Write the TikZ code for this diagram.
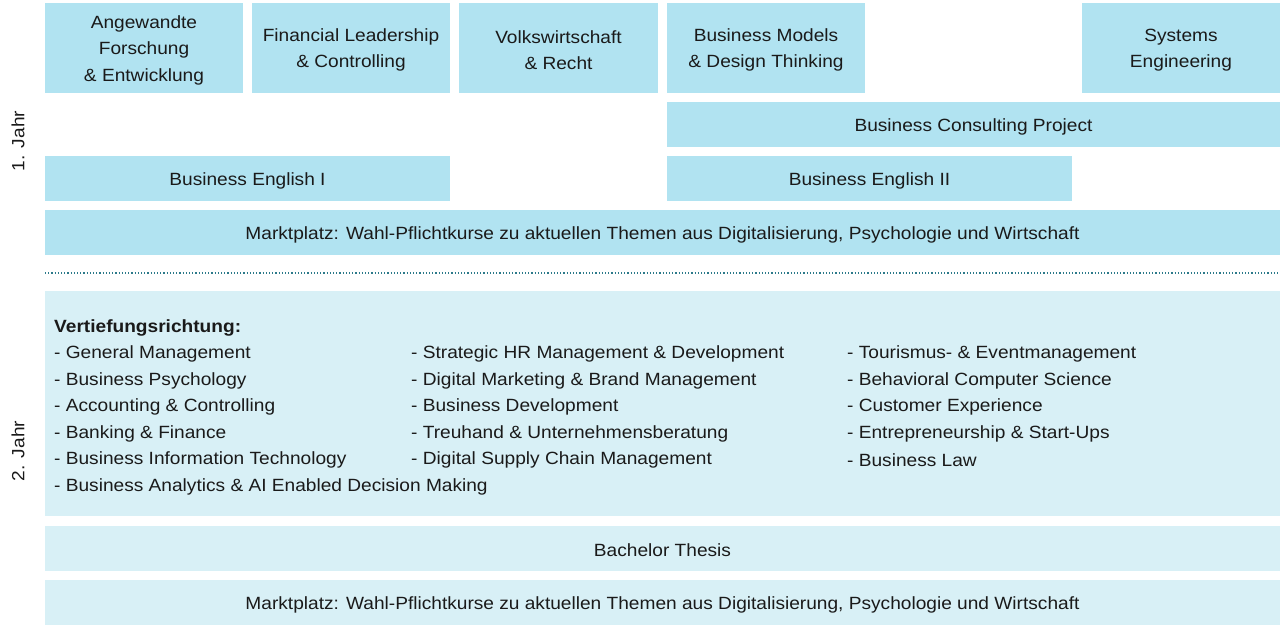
\documentclass[tikz,border=0pt]{standalone}
\usepackage{fontspec}
\setmainfont[FakeStretch=1.08]{Liberation Sans}
\definecolor{yearone}{HTML}{B1E3F1}
\definecolor{yeartwo}{HTML}{D8F0F6}
\definecolor{dotcol}{HTML}{2C7A8A}
\definecolor{txt}{HTML}{1A1A1A}
\begin{document}
\begin{tikzpicture}[x=1pt,y=-1pt,
  font=\fontsize{17.7}{26.5}\selectfont, text=txt,
  boxa/.style={fill=yearone,draw=none},
  boxb/.style={fill=yeartwo,draw=none},
  lbl/.style={align=center,inner sep=0pt},
  item/.style={anchor=west,inner sep=0pt}]
\useasboundingbox (0,0) rectangle (1280,628);
% year 1
\fill[boxa] (45,3) rectangle (243,93);
\node[lbl] (a1) at (144,50) {Angewandte\\Forschung\\\& Entwicklung};
\fill[boxa] (252,3) rectangle (450,93);
\node[lbl] (a2) at (351,50) {Financial Leadership\\\& Controlling};
\fill[boxa] (459,3) rectangle (658,93);
\node[lbl] (a3) at (558.5,50) {Volkswirtschaft\\\& Recht};
\fill[boxa] (667,3) rectangle (865,93);
\node[lbl] (a4) at (766,50) {Business Models\\\& Design Thinking};
\fill[boxa] (1082,3) rectangle (1280,93);
\node[lbl] (a5) at (1181,50) {Systems\\Engineering};
\fill[boxa] (667,102) rectangle (1280,147);
\node[lbl] (bcp) at (973.5,126.5) {Business Consulting Project};
\fill[boxa] (45,156) rectangle (450,201);
\node[lbl] (be1) at (247.5,180.5) {Business English I};
\fill[boxa] (667,156) rectangle (1072,201);
\node[lbl] (be2) at (869.5,180.5) {Business English II};
\fill[boxa] (45,210) rectangle (1280,255);
\node[lbl] (m1) at (662.5,234.5) {Marktplatz: Wahl-Pflichtkurse zu aktuellen Themen aus Digitalisierung, Psychologie und Wirtschaft};
% divider
\coordinate (d1) at (45,273);
\coordinate (d2) at (1280,273);
\draw[dotcol,line width=1.2pt,dash pattern=on 1.2pt off 2pt] (d1) -- (d2);
% year labels
\node[lbl,rotate=90] (j1) at (18,141) {1. Jahr};
\node[lbl,rotate=90] (j2) at (18,451) {2. Jahr};
% year 2
\fill[boxb] (45,291) rectangle (1280,516);
\node[item] (vt) at (54,328) {\bfseries Vertiefungsrichtung:};
\foreach \t [count=\i from 0] in {General Management,Business Psychology,Accounting \& Controlling,Banking \& Finance,Business Information Technology,Business Analytics \& AI Enabled Decision Making}
  \node[item] (c1-\i) at (54,354.3+26.5*\i) {- \t};
\foreach \t [count=\i from 0] in {Strategic HR Management \& Development,Digital Marketing \& Brand Management,Business Development,Treuhand \& Unternehmensberatung,Digital Supply Chain Management}
  \node[item] (c2-\i) at (411,354.3+26.5*\i) {- \t};
\foreach \t [count=\i from 0] in {Tourismus- \& Eventmanagement,Behavioral Computer Science,Customer Experience,Entrepreneurship \& Start-Ups,Business Law}
  \node[item] (c3-\i) at (847,354.3+26.5*\i) {- \t};
\fill[boxb] (45,526) rectangle (1280,571);
\node[lbl] (bt) at (662.5,550.5) {Bachelor Thesis};
\fill[boxb] (45,580) rectangle (1280,625);
\node[lbl] (m2) at (662.5,604.5) {Marktplatz: Wahl-Pflichtkurse zu aktuellen Themen aus Digitalisierung, Psychologie und Wirtschaft};
\end{tikzpicture}
\end{document}
